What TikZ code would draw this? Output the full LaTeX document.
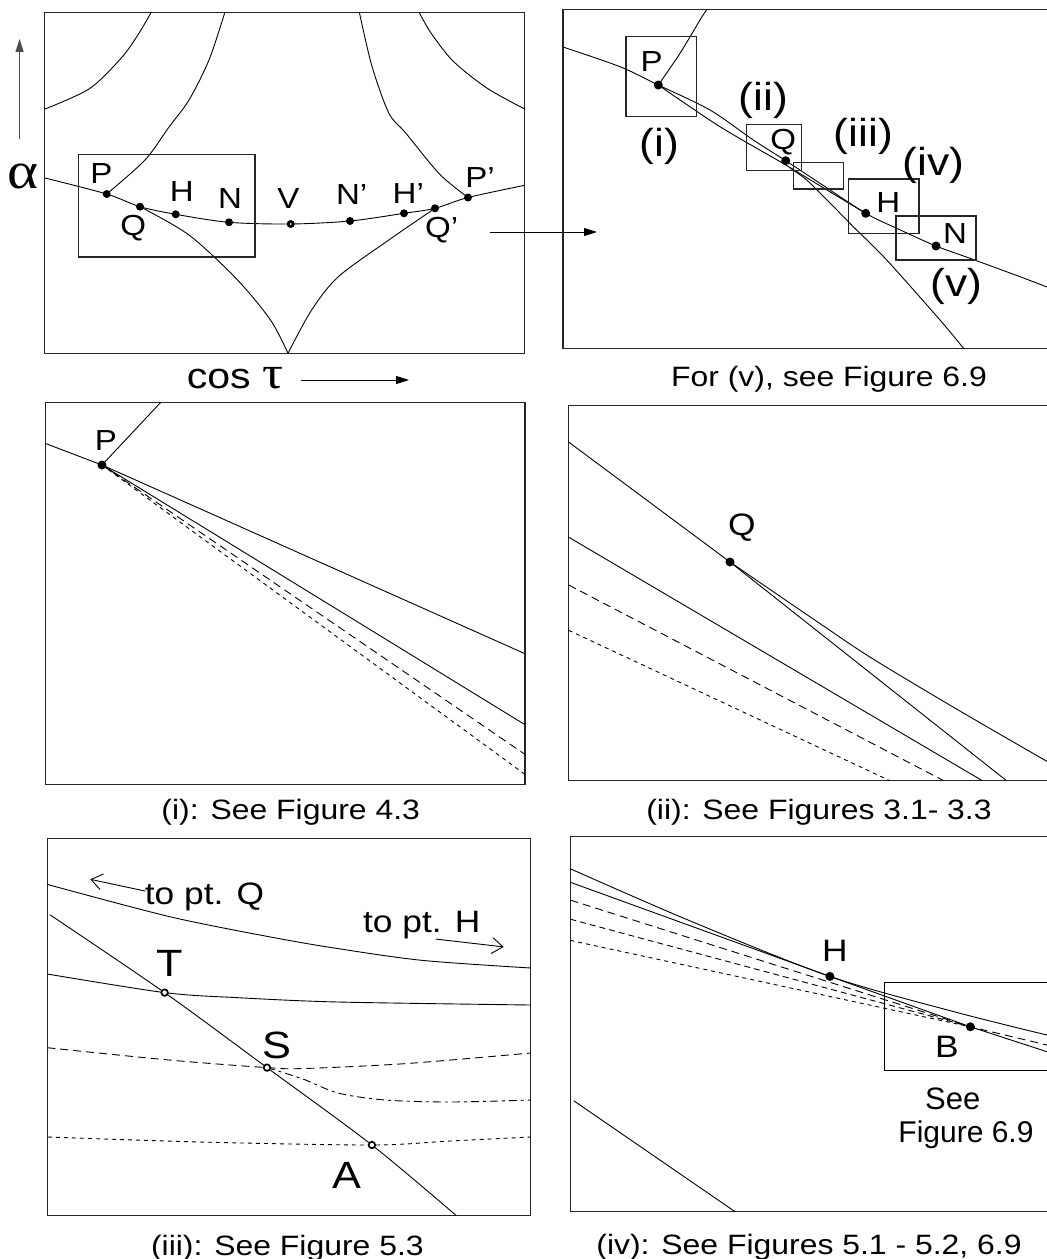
\documentclass[tikz,border=0pt]{standalone}
\usepackage{fontspec}
\setmainfont{Liberation Sans}[FakeStretch=1.14]
\newfontfamily\plainsans{Liberation Sans}
\newfontfamily\grk{Liberation Serif}[FakeStretch=1.14]
\usetikzlibrary{arrows.meta}
\newcommand\fsz[1]{\fontsize{#1}{#1}\selectfont}
\tikzset{
  pframe/.style={draw=black!85, line width=1.2pt},
  crv/.style={line width=0.9pt},
  ldash/.style={crv, dash pattern=on 8pt off 5pt},
  mdash/.style={crv, dash pattern=on 6pt off 4pt},
  sdash/.style={crv, dash pattern=on 4pt off 4pt},
  mixdash/.style={crv, dash pattern=on 8pt off 4pt on 3pt off 4pt},
  pdot/.style={circle, fill=black, inner sep=0pt, minimum size=8pt},
  bdot/.style={circle, fill=black, inner sep=0pt, minimum size=9pt},
  vdot/.style={circle, draw=black, fill=white, line width=2.8pt, inner sep=0pt, minimum size=5pt},
  ringdot/.style={circle, draw=black, fill=white, line width=1.7pt, inner sep=0pt, minimum size=6.5pt},
  lblA/.style={inner sep=0pt, font=\fsz{29}},
  lblR/.style={inner sep=0pt, font=\fsz{39}},
  lblB/.style={inner sep=0pt, font=\fsz{38}},
  lblM/.style={inner sep=0pt, font=\fsz{31}},
  captxt/.style={inner sep=0pt, anchor=base, font=\fsz{28}},
  fatarrow/.style={line width=1pt, -{Triangle[length=13pt,width=8pt]}},
  openarrow/.style={line width=0.9pt, -{Straight Barb[length=11pt,width=16pt]}},
}
\begin{document}
\begin{tikzpicture}[x=1pt,y=-1pt]
\fill[white] (0,0) rectangle (1047,1259);
\useasboundingbox (0,0) rectangle (1047,1259);

% ================= Panel 1 =================
\draw[pframe] (44.6,12.5) rectangle (524.7,353.3);
\draw[crv] plot[smooth] coordinates {(45,178) (106.7,194) (140,206.7) (175.7,214.3) (229,222.3) (290.7,224) (350,221) (404,213.3) (435,208.3) (468,197.5) (524.7,185.3)};
\draw[crv] plot[smooth] coordinates {(106.7,194) (145,160) (169,127) (189,100) (209,60) (224.8,12.5)};
\draw[crv] plot[smooth] coordinates {(140,206.7) (189,235) (236.6,279) (270.5,320) (288,353.3)};
\draw[crv] plot[smooth] coordinates {(288,353.3) (311,311) (338,277) (388.8,240) (435,208.3)};
\draw[crv] plot[smooth] coordinates {(468,197.5) (439.5,174) (405.7,133) (388.8,113) (371.9,66) (359.4,12.5)};
\draw[crv] plot[smooth] coordinates {(45,109) (89.6,88.6) (121.7,57.5) (138.6,33.8) (151.1,12.5)};
\draw[crv] plot[smooth] coordinates {(419.2,12.5) (431,33) (453,61) (486.8,88) (524.7,109)};
\draw[pframe] (78.8,154.5) rectangle (255,257);
\node[pdot] (d1P) at (106.7,194) {};
\node[pdot] (d1Q) at (140,206.7) {};
\node[pdot] (d1H) at (175.7,214.3) {};
\node[pdot] (d1N) at (229,222.3) {};
\node[vdot] (d1V) at (290.7,224) {};
\node[pdot] (d1N2) at (350,221) {};
\node[pdot] (d1H2) at (404,213.3) {};
\node[pdot] (d1Q2) at (435,208.3) {};
\node[pdot] (d1P2) at (468,197.5) {};
\node[lblA] (t1P) at (101.4,174) {P};
\node[lblA] (t1Q) at (133.3,228.3) {Q};
\node[lblA] (t1H) at (181.7,191.7) {H};
\node[lblA] (t1N) at (230,198.3) {N};
\node[lblA] (t1V) at (288.3,198.3) {V};
\node[lblA] (t1N2) at (351.7,195) {N’};
\node[lblA] (t1H2) at (408.3,193.3) {H’};
\node[lblA] (t1Q2) at (441.7,230) {Q’};
\node[lblA] (t1P2) at (480,177.5) {P’};
\node[inner sep=0pt, font=\grk\fsz{52}] (alpha) at (23,176) {α};
\coordinate (upS) at (19.6,138.6);
\coordinate (upE) at (19.6,38.9);
\draw[fatarrow, draw=black!70] (upS) -- (upE);
\node[inner sep=0pt, anchor=base, font=\fsz{36}] (cosl) at (235,388.8) {cos {\grk\fsz{46}τ}};
\coordinate (cosS) at (301,380);
\coordinate (cosE) at (409,380);
\draw[fatarrow, line width=0.9pt] (cosS) -- (cosE);
\coordinate (arrS) at (490,232);
\coordinate (arrE) at (597,232);
\draw[fatarrow, line width=0.9pt] (arrS) -- (arrE);

% ================= Panel 2 =================
\draw[pframe] (1052,9.1) -- (563,9.1) -- (563,348.5) -- (1052,348.5);
\draw[crv] plot[smooth] coordinates {(563,47) (620,66.7) (658.3,85) (710,110) (753.3,140) (785.7,160.7) (820,183.3) (865.7,213.3) (896.7,228.3) (936,246) (970,258.3) (1020,276.7) (1047,287)};
\draw[crv] plot[smooth] coordinates {(658.3,85) (680,53.3) (700,20) (707,9.1)};
\draw[crv] plot[smooth] coordinates {(658.3,85) (720,126.7) (785,164.5) (822,187) (865.7,213.3)};
\draw[crv] plot[smooth] coordinates {(790,168) (806.7,180) (830,203) (853.3,226.7) (886.7,260) (940,320) (963.7,348.5)};
\draw[pframe] (626,36.7) rectangle (696.7,116.7);
\draw[pframe] (746.7,124.3) rectangle (801.7,170.7);
\draw[pframe] (793.3,162.3) rectangle (843.3,189);
\draw[pframe] (848.3,179) rectangle (919,233.3);
\draw[pframe] (896,216) rectangle (976,260);
\node[bdot] (d2P) at (658.3,85) {};
\node[bdot] (d2Q) at (785.7,160.7) {};
\node[bdot] (d2H) at (865.7,213.3) {};
\node[bdot] (d2N) at (936,246) {};
\node[lblA] (t2P) at (651.7,61.7) {P};
\node[lblA] (t2Q) at (783.3,141.7) {Q};
\node[lblA] (t2H) at (888.3,202.7) {H};
\node[lblA] (t2N) at (955,233.3) {N};
\node[lblR] (r2i) at (659.3,146.7) {(i)};
\node[lblR] (r2ii) at (763.3,100) {(ii)};
\node[lblR] (r2iii) at (863.3,136.7) {(iii)};
\node[lblR] (r2iv) at (933.3,165) {(iv)};
\node[lblR] (r2v) at (956.7,286.7) {(v)};
\node[captxt] (c2) at (829,386.6) {For (v), see Figure 6.9};

% ================= Panel 3 =================
\draw[pframe] (45.3,402.5) rectangle (525,784.5);
\draw[crv] (45.3,443.4) -- (102,465);
\draw[crv] (102,465) -- (160.6,402.5);
\draw[crv] (102,465) -- (525,653.7);
\draw[crv] (102,465) -- (525,724.7);
\draw[ldash] (102,465) -- (525,754.4);
\draw[sdash] (102,465) -- (525,774.4);
\node[bdot] (d3P) at (102,465) {};
\node[lblA] (t3P) at (106,440.5) {P};
\node[captxt] (c3) at (290.7,819) {(i): See Figure 4.3};

% ================= Panel 4 =================
\draw[pframe] (1052,405.8) -- (568.7,405.8) -- (568.7,780.6) -- (1052,780.6);
\draw[crv] (568.7,442.1) -- (730,562);
\draw[crv] plot[smooth] coordinates {(730,562) (822.5,625.3) (872.9,658.9) (957,709.3) (1047,761.4)};
\draw[crv] (730,562) -- (1006.4,780.6);
\draw[crv] (568.7,537.2) -- (982.2,780.6);
\draw[ldash] (568.7,585) -- (943.5,780.6);
\draw[sdash] (568.7,630.3) -- (889.7,780.6);
\node[bdot] (d4Q) at (730,562) {};
\node[lblM] (t4Q) at (741.8,527.8) {Q};
\node[captxt] (c4) at (819,819) {(ii): See Figures 3.1- 3.3};

% ================= Panel 5 =================
\draw[pframe] (47.3,838.7) rectangle (530.8,1215.7);
\draw[crv] plot[smooth] coordinates {(47.3,884.4) (169,916.5) (270.5,937) (338,948.6) (422.6,960.4) (530.8,968)};
\draw[crv] plot[smooth] coordinates {(47.3,974) (164.6,992.6) (236.6,997.6) (338,1002) (530.8,1005)};
\draw[crv] plot[smooth] coordinates {(50,914.8) (164.6,992.6) (267,1067.6) (371.9,1145) (456.4,1215.7)};
\draw[ldash] plot[smooth] coordinates {(47.3,1047.7) (169,1060) (267,1067.6) (304,1068.5) (405.7,1063.6) (530.8,1053)};
\draw[mixdash] plot[smooth] coordinates {(267,1067.6) (303,1079) (338,1093) (385,1100) (450,1102) (530.8,1100)};
\draw[sdash] plot[smooth] coordinates {(48,1137) (200,1142) (371.9,1145) (450,1141) (530.8,1137)};
\node[ringdot] (d5T) at (164.6,992.6) {};
\node[ringdot] (d5S) at (267,1067.6) {};
\node[ringdot] (d5A) at (371.9,1145) {};
\node[lblB] (t5T) at (170,963.8) {T};
\node[lblB] (t5S) at (276.5,1045) {S};
\node[lblB] (t5A) at (347.2,1175.1) {A};
\node[lblM, anchor=base] (t5toQ) at (204.5,904) {to pt. Q};
\node[lblM, anchor=base] (t5toH) at (421.7,932.4) {to pt. H};
\coordinate (aQs) at (145.4,891.1);
\coordinate (aQe) at (90.3,879.3);
\coordinate (aHs) at (436.1,939.1);
\coordinate (aHe) at (503.7,946.9);
\draw[openarrow] (aQs) -- (aQe);
\draw[openarrow] (aHs) -- (aHe);
\node[captxt] (c5) at (287.4,1255) {(iii): See Figure 5.3};

% ================= Panel 6 =================
\draw[pframe] (1052,836.2) -- (570.4,836.2) -- (570.4,1211.7) -- (1052,1211.7);
\draw[crv] plot[smooth] coordinates {(570.4,868.8) (688,920) (829.9,976.4) (957,1012.5) (1047,1035)};
\draw[crv] (570.4,882.3) -- (829.9,976.4) -- (970.4,1026.8) -- (1047,1051.7);
\draw[ldash] (570.4,900.1) -- (970.4,1026.8) -- (1047,1045);
\draw[mdash] (570.4,919.2) -- (970.4,1026.8);
\draw[sdash] (570.4,940.4) -- (970.4,1026.8);
\draw[crv] (573.8,1100.8) -- (735.1,1211.7);
\draw[crv, draw=black] (1052,982) -- (884.5,982) -- (884.5,1070) -- (1052,1070);
\node[bdot] (d6H) at (829.9,976.4) {};
\node[bdot] (d6B) at (970.4,1026.8) {};
\node[lblM] (t6H) at (835,950.5) {H};
\node[lblM] (t6B) at (946.9,1047) {B};
\node[inner sep=0pt, anchor=base, font=\plainsans\fsz{31}] (t6See) at (952.7,1109) {See};
\node[inner sep=0pt, anchor=base, font=\plainsans\fsz{30}] (t6Fig) at (966,1142.8) {Figure 6.9};
\node[captxt] (c6) at (809,1254) {(iv): See Figures 5.1 - 5.2, 6.9};
\end{tikzpicture}
\end{document}
